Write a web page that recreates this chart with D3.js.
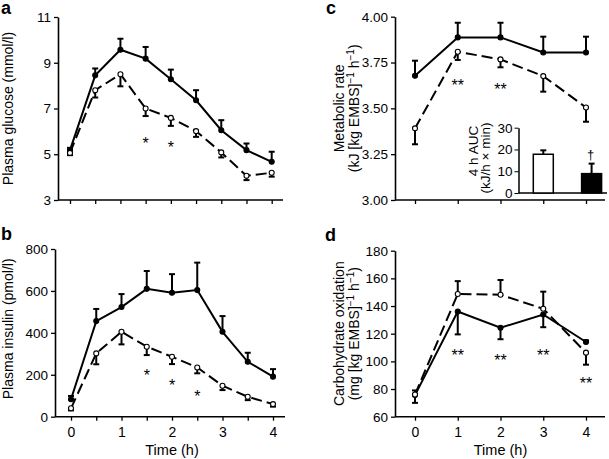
<!DOCTYPE html>
<html><head><meta charset="utf-8">
<script src="https://cdn.jsdelivr.net/npm/d3@7"></script>
<style>body{margin:0;background:#fff}svg{display:block}text{font-family:"Liberation Sans",Arial,sans-serif;fill:#000}</style>
</head><body><svg id="c" width="609" height="459"></svg>
<script>
// ---------- data ----------
const halfHours = [0,0.5,1,1.5,2,2.5,3,3.5,4];
const hours = [0,1,2,3,4];
// (a) plasma glucose, mmol/l ; error values signed (+ up, - down)
const glucoseSolid = [5.18,8.45,9.57,9.18,8.28,7.36,6.05,5.18,4.67];
const glucoseSolidErr = [0.1,0.3,0.48,0.51,0.42,0.44,0.44,0.29,0.44];
const glucoseDashed = [5.06,7.8,8.5,7.0,6.59,6.01,5.08,4.06,4.19];
const glucoseDashedErr = [-0.1,-0.32,-0.53,-0.33,-0.35,-0.25,-0.22,-0.19,-0.17];
const glucoseStars = [[1.5,5.62,"*"],[2,5.43,"*"]];
const glucoseTicks = [3,5,7,9,11];
// (b) plasma insulin, pmol/l
const insulinSolid = [83,456,523,610,591,604,405,262,191];
const insulinSolidErr = [16,58,62,85,89,131,75,43,36];
const insulinDashed = [40,302,405,334,286,235,148,95,60];
const insulinDashedErr = [-10,-52,-60,-40,-35,-28,-21,-16,-12];
const insulinStars = [[1.5,215,"*"],[2,167,"*"],[2.5,115,"*"]];
const insulinTicks = [0,200,400,600,800];
// (c) metabolic rate, kJ [kg EMBS]^-1 h^-1
const metabSolid = [3.678,3.887,3.887,3.805,3.805];
const metabSolidErr = [0.082,0.08,0.08,0.086,0.086];
const metabDashed = [3.391,3.809,3.767,3.676,3.505];
const metabDashedErr = [-0.087,-0.045,-0.043,-0.085,-0.078];
const metabStars = [[1,3.645,"**"],[2,3.62,"**"]];
const metabTicks = [3.00,3.25,3.50,3.75,4.00];
// inset: 4 h AUC, kJ/h x min
const aucGroups = ["open","filled"];
const aucValues = [17.8,8.9];
const aucErr = [1.8,4.6];
const aucTicks = [0,10,20,30];
// (d) carbohydrate oxidation, mg [kg EMBS]^-1 h^-1
const choSolid = [75.6,136,124.3,133.9,114];
const choSolidErr = [3.4,-16.5,-8.3,-9.2,1.2];
const choDashed = [76,148.7,148.2,138,106.3];
const choDashedErr = [-6,9.3,10.6,12.4,-8.7];
const choStars = [[1,106.8,"**"],[2,103.2,"**"],[3,106.8,"**"],[4,86.4,"**"]];
const choTicks = [60,80,100,120,140,160,180];

// ---------- drawing ----------
const svg = d3.select("#c");

function panel(cfg){
  const g = svg.append("g");
  const x = d3.scaleLinear().domain([0,4]).range(cfg.xr);
  const y = d3.scaleLinear().domain(cfg.dom).range(cfg.yr);
  // y axis
  const ya = g.append("g").attr("transform",`translate(${cfg.x0},0)`)
    .call(d3.axisLeft(y).tickValues(cfg.yTicks).tickSize(4).tickSizeOuter(0).tickPadding(3).tickFormat(cfg.yFmt||d3.format("d")));
  ya.select(".domain").attr("stroke-width",1.6);
  ya.selectAll(".tick line").attr("stroke-width",1.3);
  ya.selectAll("text").style("font-size","13.5px").attr("font-family",null);
  // x axis
  const xa = g.append("g").attr("transform",`translate(0,${cfg.yr[0]})`)
    .call(d3.axisBottom(x).tickValues(cfg.xTicks).tickSize(4).tickSizeOuter(0).tickPadding(6)
      .tickFormat(cfg.xLabels ? (d=>Number.isInteger(d)?d:"") : ()=>""));
  xa.select(".domain").remove();
  xa.selectAll(".tick line").attr("stroke-width",1.3);
  xa.selectAll("text").style("font-size","14px").attr("font-family",null);
  g.append("line").attr("x1",cfg.x0).attr("x2",cfg.xEnd).attr("y1",cfg.yr[0]).attr("y2",cfg.yr[0])
    .attr("stroke","#000").attr("stroke-width",1.6);
  if (cfg.xLabels) {
    g.append("text").attr("x",(cfg.xr[0]+cfg.xr[1])/2).attr("y",cfg.yr[0]+38)
      .attr("text-anchor","middle").style("font-size","14.5px").text("Time (h)");
  }
  // panel letter
  g.append("text").attr("x",cfg.letterX).attr("y",cfg.letterY).style("font-size","18px")
    .style("font-weight","bold").text(cfg.letter);
  // y title
  const cy = (cfg.yr[0]+cfg.yr[1])/2 + (cfg.titleDy||0);
  cfg.title.forEach((t,i)=>{
    const tx = g.append("text").attr("transform",`translate(${cfg.titleX[i]},${cy}) rotate(-90)`)
      .attr("text-anchor","middle").style("font-size","14px");
    t.forEach(part=>{
      const ts = tx.append("tspan").text(part.s);
      if (part.sup) ts.attr("baseline-shift","super").style("font-size","10px");
    });
  });
  // series
  cfg.series.forEach(s=>{
    const times = s.times;
    g.append("path").datum(s.vals)
      .attr("d", d3.line().x((d,i)=>x(times[i])).y(d=>y(d)))
      .attr("fill","none").attr("stroke","#000").attr("stroke-width",2)
      .attr("stroke-dasharray", s.dashed ? "11,5" : null);
  });
  cfg.series.forEach(s=>{
    const eb = g.append("g");
    s.vals.forEach((v,i)=>{
      const xx = x(s.times[i]), y1 = y(v), y2 = y(v + s.err[i]);
      eb.append("line").attr("x1",xx).attr("x2",xx).attr("y1",y1).attr("y2",y2)
        .attr("stroke","#000").attr("stroke-width",2);
      eb.append("line").attr("x1",xx-3).attr("x2",xx+3).attr("y1",y2).attr("y2",y2)
        .attr("stroke","#000").attr("stroke-width",2);
    });
  });
  cfg.series.forEach(s=>{
    g.append("g").selectAll("circle").data(s.vals).join("circle")
      .attr("cx",(d,i)=>x(s.times[i])).attr("cy",d=>y(d)).attr("r",2.5)
      .attr("fill", s.dashed ? "#fff" : "#000").attr("stroke","#000").attr("stroke-width",1.1);
  });
  // significance marks (values are glyph centres)
  cfg.stars.forEach(st=>{
    g.append("text").attr("x",x(st[0])).attr("y",y(st[1])+9)
      .attr("text-anchor","middle").style("font-size","16px").text(st[2]);
  });
  return {g,x,y};
}

panel({x0:58, xr:[70,271.7], xEnd:283, yr:[200,17], dom:[3,11], yTicks:glucoseTicks, xTicks:halfHours,
  letter:"a", letterX:1, letterY:14, titleX:[12.5],
  title:[[{s:"Plasma glucose (mmol/l)"}]],
  series:[{times:halfHours, vals:glucoseSolid, err:glucoseSolidErr, dashed:false},
          {times:halfHours, vals:glucoseDashed, err:glucoseDashedErr, dashed:true}],
  stars:glucoseStars});

panel({x0:55, xr:[71,273], xEnd:285, yr:[416.7,249], dom:[0,800], yTicks:insulinTicks, xTicks:halfHours, xLabels:true,
  letter:"b", letterX:1, letterY:240, titleX:[12.5], titleDy:-4,
  title:[[{s:"Plasma insulin (pmol/l)"}]],
  series:[{times:halfHours, vals:insulinSolid, err:insulinSolidErr, dashed:false},
          {times:halfHours, vals:insulinDashed, err:insulinDashedErr, dashed:true}],
  stars:insulinStars});

panel({x0:395, xr:[415,586], xEnd:605, yr:[200,16.7], dom:[3,4], yTicks:metabTicks, xTicks:hours,
  yFmt:d3.format(".2f"),
  letter:"c", letterX:326, letterY:14, titleX:[344,359],
  title:[[{s:"Metabolic rate"}],[{s:"(kJ [kg EMBS]"},{s:"−1",sup:true},{s:" h"},{s:"−1",sup:true},{s:")"}]],
  series:[{times:hours, vals:metabSolid, err:metabSolidErr, dashed:false},
          {times:hours, vals:metabDashed, err:metabDashedErr, dashed:true}],
  stars:metabStars});

panel({x0:395, xr:[415,586], xEnd:605, yr:[416.7,250.7], dom:[60,180], yTicks:choTicks, xTicks:hours, xLabels:true,
  letter:"d", letterX:325, letterY:240.5, titleX:[344,359],
  title:[[{s:"Carbohydrate oxidation"}],[{s:"(mg [kg EMBS]"},{s:"−1",sup:true},{s:" h"},{s:"−1",sup:true},{s:")"}]],
  series:[{times:hours, vals:choSolid, err:choSolidErr, dashed:false},
          {times:hours, vals:choDashed, err:choDashedErr, dashed:true}],
  stars:choStars});

// ---------- inset ----------
const ig = svg.append("g");
const iy = d3.scaleLinear().domain([0,30]).range([193,127.7]);
const ix = d3.scalePoint().domain(aucGroups).range([543.3,591.6]);
const iya = ig.append("g").attr("transform","translate(518.5,0)")
  .call(d3.axisLeft(iy).tickValues(aucTicks).tickSize(4).tickSizeOuter(0).tickPadding(2));
iya.select(".domain").attr("stroke-width",1.5);
iya.selectAll("text").style("font-size","13.5px").attr("font-family",null);
ig.append("line").attr("x1",518.5).attr("x2",607).attr("y1",193).attr("y2",193).attr("stroke","#000").attr("stroke-width",1.5);
ig.selectAll("rect").data(aucValues).join("rect")
  .attr("x",(d,i)=>ix(aucGroups[i])-10).attr("width",20)
  .attr("y",d=>iy(d)).attr("height",d=>iy(0)-iy(d))
  .attr("fill",(d,i)=>i===0?"#fff":"#000").attr("stroke","#000").attr("stroke-width",1.5);
aucValues.forEach((v,i)=>{
  const xx = ix(aucGroups[i]);
  ig.append("line").attr("x1",xx).attr("x2",xx).attr("y1",iy(v)).attr("y2",iy(v+aucErr[i])).attr("stroke","#000").attr("stroke-width",2);
  ig.append("line").attr("x1",xx-3).attr("x2",xx+3).attr("y1",iy(v+aucErr[i])).attr("y2",iy(v+aucErr[i])).attr("stroke","#000").attr("stroke-width",2);
});
ig.append("text").attr("x",ix("filled")-1).attr("y",iy(aucValues[1]+aucErr[1])-5)
  .attr("text-anchor","middle").style("font-size","13px").text("†");
[["4 h AUC",478,151],["(kJ/h × min)",490,158]].forEach(t=>{
  ig.append("text").attr("transform",`translate(${t[1]},${t[2]}) rotate(-90)`).attr("text-anchor","middle")
    .style("font-size","13.5px").text(t[0]);
});
</script></body></html>
